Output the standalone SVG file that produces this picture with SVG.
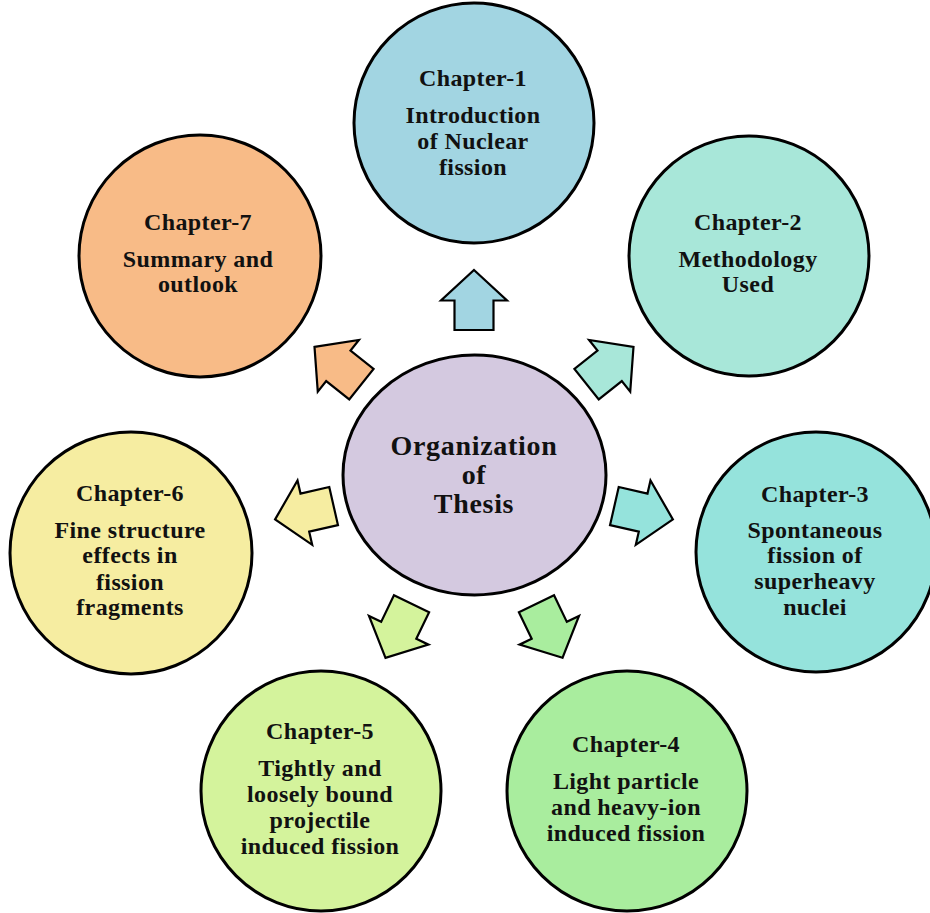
<svg xmlns="http://www.w3.org/2000/svg" xmlns:xlink="http://www.w3.org/1999/xlink" width="930" height="913" viewBox="0 0 930 913">
<style>
.node{stroke:#000;stroke-width:3}
.arr{stroke:#000;stroke-width:2.2;stroke-linejoin:miter}
text{font-family:"Liberation Serif","Times New Roman",serif;font-weight:bold;font-size:24px;fill:#111;text-anchor:middle;letter-spacing:0.4px}
.big{font-size:28px;letter-spacing:0.7px}
</style>
<defs>
<path id="arrow" d="M474,270 L507,300.5 L493.5,300.5 L493.5,330 L454.5,330 L454.5,300.5 L441,300.5 Z"/>
</defs>
<rect width="930" height="913" fill="#fff"/>
<g id="connectors">
<use xlink:href="#arrow" class="arr" fill="#A2D5E2"/>
<use xlink:href="#arrow" class="arr" fill="#A8E7D9" transform="rotate(51.43 474 474)"/>
<use xlink:href="#arrow" class="arr" fill="#95E3DC" transform="rotate(102.86 474 474)"/>
<use xlink:href="#arrow" class="arr" fill="#A9ED9E" transform="rotate(154.29 474 474)"/>
<use xlink:href="#arrow" class="arr" fill="#D4F39C" transform="rotate(205.71 474 474)"/>
<use xlink:href="#arrow" class="arr" fill="#F6EDA1" transform="rotate(257.14 474 474)"/>
<use xlink:href="#arrow" class="arr" fill="#F8BB87" transform="rotate(308.57 474 474)"/>
</g>
<g id="center">
<ellipse class="node" cx="474.5" cy="475" rx="131.5" ry="120" fill="#D4C9E0"/>
<text class="big" x="474" y="455">Organization</text>
<text class="big" x="474" y="484">of</text>
<text class="big" x="474" y="513">Thesis</text>
</g>
<g id="ch1">
<circle class="node" cx="474" cy="123" r="120" fill="#A2D5E2"/>
<text x="473" y="86">Chapter-1</text>
<text x="473" y="123">Introduction</text>
<text x="473" y="149">of  Nuclear</text>
<text x="473" y="175">fission</text>
</g>
<g id="ch2">
<circle class="node" cx="749" cy="256" r="120" fill="#A8E7D9"/>
<text x="748" y="230">Chapter-2</text>
<text x="748" y="267">Methodology</text>
<text x="748" y="292">Used</text>
</g>
<g id="ch3">
<circle class="node" cx="816" cy="552" r="120" fill="#95E3DC"/>
<text x="815" y="502">Chapter-3</text>
<text x="815" y="538">Spontaneous</text>
<text x="815" y="563">fission of</text>
<text x="815" y="589">superheavy</text>
<text x="815" y="615">nuclei</text>
</g>
<g id="ch4">
<circle class="node" cx="627" cy="791" r="120" fill="#A9ED9E"/>
<text x="626" y="752">Chapter-4</text>
<text x="626" y="789">Light particle</text>
<text x="626" y="815">and heavy-ion</text>
<text x="626" y="841">induced fission</text>
</g>
<g id="ch5">
<circle class="node" cx="321" cy="791" r="120" fill="#D4F39C"/>
<text x="320" y="739">Chapter-5</text>
<text x="320" y="776">Tightly and</text>
<text x="320" y="802">loosely bound</text>
<text x="320" y="828">projectile</text>
<text x="320" y="854">induced fission</text>
</g>
<g id="ch6">
<circle class="node" cx="131" cy="553" r="121" fill="#F6EDA1"/>
<text x="130" y="501">Chapter-6</text>
<text x="130" y="538">Fine structure</text>
<text x="130" y="563">effects in</text>
<text x="130" y="590">fission</text>
<text x="130" y="615">fragments</text>
</g>
<g id="ch7">
<circle class="node" cx="200" cy="256" r="121" fill="#F8BB87"/>
<text x="198" y="230">Chapter-7</text>
<text x="198" y="267">Summary and</text>
<text x="198" y="292">outlook</text>
</g>
</svg>
